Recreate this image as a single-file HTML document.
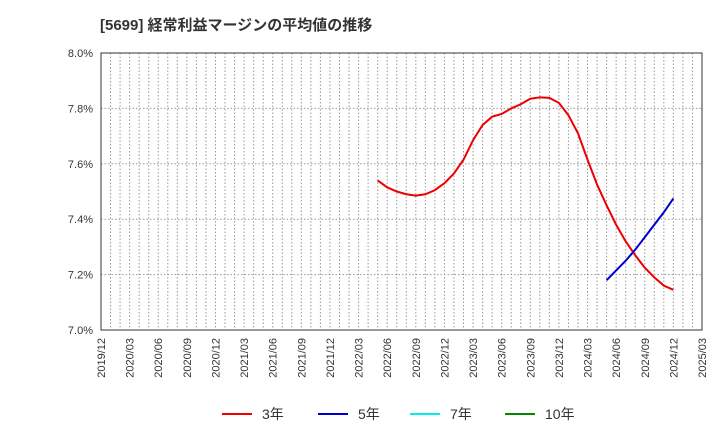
<!DOCTYPE html>
<html><head><meta charset="utf-8"><style>
body{margin:0;background:#fff;font-family:"Liberation Sans","Noto Sans CJK JP",sans-serif;}
</style></head><body>
<svg id="c" width="720" height="440" xmlns="http://www.w3.org/2000/svg">
<text x="100" y="30" font-size="15" font-weight="bold" fill="#333" font-family="Liberation Sans, Noto Sans CJK JP, sans-serif">[5699]  経常利益マージンの平均値の推移</text>
<g id="grid"></g><g id="axes"></g><g id="series"></g>
<g font-size="14" fill="#333">
<line x1="222" y1="414" x2="252" y2="414" stroke="#e00" stroke-width="2"/><text x="262" y="419">3年</text>
<line x1="318" y1="414" x2="348" y2="414" stroke="#00c" stroke-width="2"/><text x="358" y="419">5年</text>
<line x1="410" y1="414" x2="440" y2="414" stroke="#0ee" stroke-width="2"/><text x="450" y="419">7年</text>
<line x1="505" y1="414" x2="535" y2="414" stroke="#080" stroke-width="2"/><text x="545" y="419">10年</text>
</g>
</svg>
<script>
const xLabels=["2019/12","2020/03","2020/06","2020/09","2020/12","2021/03","2021/06","2021/09","2021/12","2022/03","2022/06","2022/09","2022/12","2023/03","2023/06","2023/09","2023/12","2024/03","2024/06","2024/09","2024/12","2025/03"];
const yTicks=[7.0,7.2,7.4,7.6,7.8,8.0];
const s3Start=29;
const s3=[7.54,7.515,7.50,7.49,7.485,7.49,7.505,7.53,7.565,7.615,7.685,7.74,7.77,7.78,7.80,7.815,7.835,7.84,7.838,7.82,7.775,7.71,7.615,7.525,7.45,7.38,7.32,7.27,7.225,7.19,7.16,7.145];
const s5Start=53;
const s5=[7.18,7.215,7.25,7.29,7.335,7.38,7.425,7.475];
const L=101,R=702,T=53,B=330,NM=63;
const xs=m=>L+m*(R-L)/NM, ys=v=>B-(v-7.0)/(1.0)*(B-T);
const NS="http://www.w3.org/2000/svg";
function mk(t,a,p){const e=document.createElementNS(NS,t);for(const k in a)e.setAttribute(k,a[k]);p.appendChild(e);return e;}
const g=document.getElementById('grid'),ax=document.getElementById('axes'),se=document.getElementById('series');
for(let m=1;m<NM;m++){const l=mk('line',{x1:xs(m),x2:xs(m),y1:T,y2:B,stroke:'#999','stroke-dasharray':'1.5,2'},g);
}
yTicks.forEach(v=>{const l=mk('line',{x1:L,x2:R,y1:ys(v),y2:ys(v),stroke:'#999','stroke-dasharray':'1.5,2'},g);

const t=mk('text',{x:L-8,y:ys(v)+4,'text-anchor':'end','font-size':11,fill:'#333'},ax);t.textContent=v.toFixed(1)+'%';
});
xLabels.forEach((s,i)=>{const x=xs(i*3),y=B+8;const t=mk('text',{x:x+4,y:y,'text-anchor':'end','font-size':11,fill:'#333',transform:`rotate(-90 ${x+4} ${y})`},ax);t.textContent=s;
});
const fr=mk('rect',{x:L,y:T,width:R-L,height:B-T,fill:'none',stroke:'#333'},ax);

function line(arr,st,col,name){const p=mk('polyline',{points:arr.map((v,i)=>xs(st+i)+','+ys(v)).join(' '),fill:'none',stroke:col,'stroke-width':2},se);
}
line(s3,s3Start,'#e00','series-3y');line(s5,s5Start,'#00c','series-5y');
</script>
</body></html>
